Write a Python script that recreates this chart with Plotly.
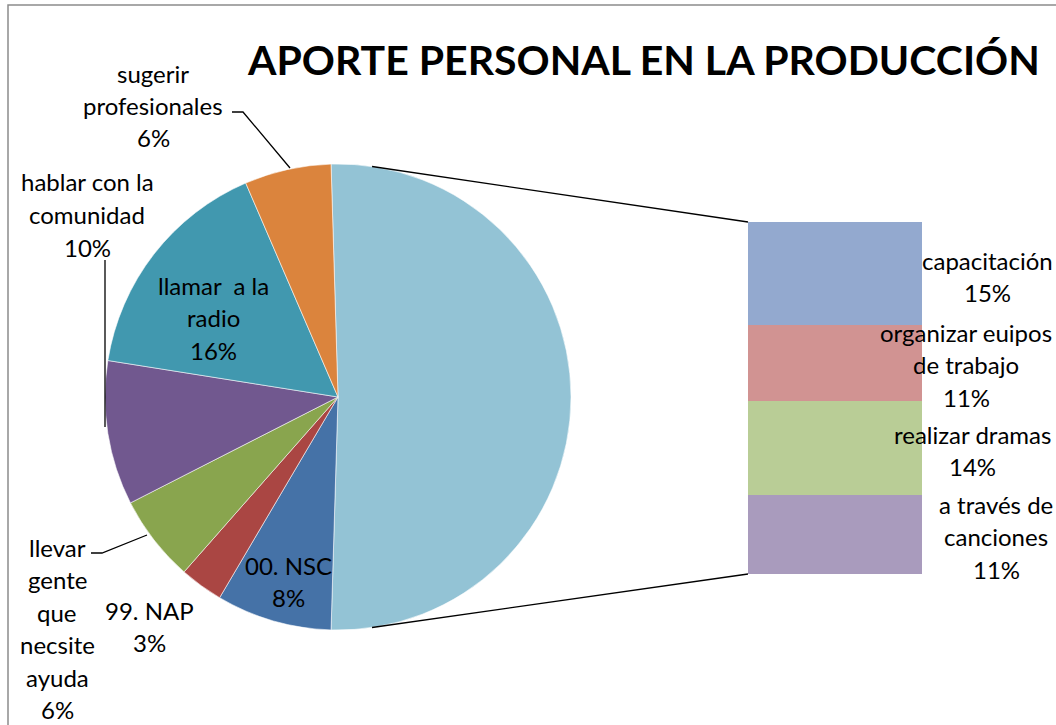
import math
import plotly.graph_objects as go

# ---------------- data ----------------
# bar-of-pie: secondary breakdown of the large "other" slice (percent of total)
bar_labels = ["capacitación", "organizar euipos\nde trabajo", "realizar dramas", "a través de\ncanciones"]
bar_values = [14.9, 11.0, 13.6, 11.4]
bar_colors = ["#93A9CF", "#D19392", "#B9CD96", "#A99BBD"]

# main pie slices, clockwise starting with the combined "other" slice
pie_labels = ["Otros", "00. NSC", "99. NAP", "llevar\ngente\nque\nnecsite\nayuda",
              "hablar con la\ncomunidad", "llamar  a la\nradio", "sugerir\nprofesionales"]
pie_values = [sum(bar_values), 8, 3, 6, 10, 16, 6]
pie_colors = ["#93C3D5", "#4572A7", "#AA4643", "#89A54E", "#71588F", "#4198AF", "#DB843D"]

title_text = "APORTE PERSONAL EN LA PRODUCCIÓN"

# ---------------- layout geometry (pixels) ----------------
W, H = 1056, 725
FONT = "Lato"
FS = 24
LINE = 32.5


def X(px):
    return px / W


def Y(py):
    return 1 - py / H


cx, cy, r = 338, 397, 233           # pie centre / radius
bx0, bx1, by0, by1 = 748, 922, 222, 574   # bar box

total = sum(pie_values)
frac_other = pie_values[0] / total
rotation = 90 - frac_other * 180   # centre the "other" slice at 3 o'clock

fig = go.Figure()

fig.add_trace(go.Pie(
    values=pie_values, labels=[l.replace("\n", " ") for l in pie_labels],
    sort=False, direction="clockwise", rotation=rotation,
    textinfo="none", hoverinfo="label+percent", showlegend=False,
    marker=dict(colors=pie_colors, line=dict(color="rgba(255,255,255,0.8)", width=0.7)),
    domain=dict(x=[X(cx - r), X(cx + r)], y=[Y(cy + r), Y(cy - r)]),
))

# stacked bar: bottom to top is the reverse of the label order
for lab, val, col in reversed(list(zip(bar_labels, bar_values, bar_colors))):
    fig.add_trace(go.Bar(
        x=[0], y=[val], width=1, name=lab.replace("\n", " "),
        marker=dict(color=col, line=dict(width=0)),
        showlegend=False, hoverinfo="name+y",
        xaxis="x", yaxis="y",
    ))

annotations = []


def add_lines(lines, x_center, y_first):
    for i, ln in enumerate(lines):
        annotations.append(dict(
            x=X(x_center), y=Y(y_first + i * LINE), xref="paper", yref="paper",
            text=ln, showarrow=False, xanchor="center", yanchor="middle",
            font=dict(family=FONT, size=FS, color="black"),
        ))


def pct(v):
    return f"{round(v)}%"


# pie labels: (index, centre x, first line y)
pie_label_pos = {
    1: (288, 565),
    2: (149, 610),
    3: (57, 547),
    4: (87, 182),
    5: (213, 285),
    6: (153, 73),
}
for i, (lx, ly) in pie_label_pos.items():
    add_lines(pie_labels[i].split("\n") + [pct(pie_values[i] / total * 100)], lx, ly)

# bar labels
bar_label_pos = [(987, 260), (966, 332), (972, 434), (996, 504)]
for lab, val, (lx, ly) in zip(bar_labels, bar_values, bar_label_pos):
    add_lines(lab.split("\n") + [pct(val)], lx, ly)

# title
annotations.append(dict(
    x=X(643), y=Y(60), xref="paper", yref="paper", text=f"<b>{title_text}</b>",
    showarrow=False, xanchor="center", yanchor="middle",
    font=dict(family=FONT, size=41, color="black"),
))

shapes = []
# outer frame
shapes.append(dict(type="rect", xref="paper", yref="paper",
                   x0=X(8), x1=X(1080), y0=Y(745), y1=Y(5),
                   line=dict(color="#8C8C8C", width=1.5), fillcolor="rgba(0,0,0,0)", layer="below"))


def path(points):
    d = "M " + " L ".join(f"{X(px)},{Y(py)}" for px, py in points)
    return dict(type="path", xref="paper", yref="paper", path=d,
                line=dict(color="black", width=1.3))


# connector lines pie -> bar
for ang_deg, (ex, ey) in [(8.4, (bx0, by0)), (171.6, (bx0, by1))]:
    a = math.radians(ang_deg)
    sx, sy = cx + r * math.sin(a), cy - r * math.cos(a)
    shapes.append(path([(sx, sy), (ex, ey)]))

# leader lines
shapes.append(path([(232, 112), (243, 112), (290, 168)]))   # sugerir profesionales
shapes.append(path([(105, 260), (105, 427)]))               # hablar con la comunidad
shapes.append(path([(91, 553), (102, 553), (147, 535)]))    # llevar gente

fig.update_layout(
    width=W, height=H, margin=dict(l=0, r=0, t=0, b=0),
    paper_bgcolor="white", plot_bgcolor="rgba(0,0,0,0)",
    barmode="stack", bargap=0,
    xaxis=dict(domain=[X(bx0), X(bx1)], range=[-0.5, 0.5], visible=False, fixedrange=True),
    yaxis=dict(domain=[Y(by1), Y(by0)], range=[0, sum(bar_values)], visible=False, fixedrange=True),
    annotations=annotations, shapes=shapes,
    font=dict(family=FONT, size=FS, color="black"),
)

fig.write_html(
    "out.html",
    config={"displayModeBar": False},
    post_script="document.documentElement.style.margin='0';document.body.style.margin='0';"
                "document.body.style.overflow='hidden';document.documentElement.style.overflow='hidden';",
)
